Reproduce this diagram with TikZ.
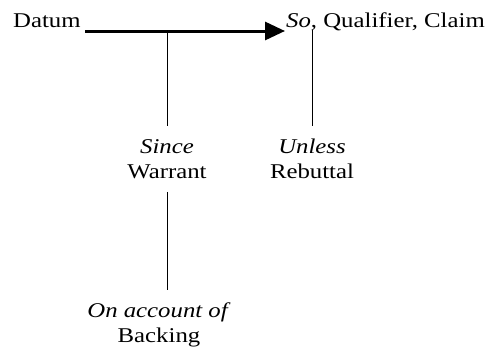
\documentclass[tikz,border=0pt]{standalone}
\usepackage{fontspec}
\setmainfont[FakeStretch=1.18]{Liberation Serif}
\usetikzlibrary{arrows.meta}

\begin{document}
\begin{tikzpicture}[x=1pt,y=-1pt,
        part/.style={
        align=center, inner xsep=10pt, inner ysep=13pt,
        font=\fontsize{21}{25}\selectfont},
        link/.style={line width=1pt},
        ]
        \useasboundingbox (0,0) rectangle (488,349);

        \node (datum) [part, anchor=base west, inner sep=0pt] at (13,27) {Datum};
        \node (claim) [part, anchor=base west, inner sep=0pt] at (286,27) {\textit{So}, Qualifier, Claim};
        \node (warrant) [part] at (167,159) {\textit{Since}\\Warrant};
        \node (rebuttal) [part] at (312,159) {\textit{Unless}\\Rebuttal};
        \node (backing) [part] at (159,325) {\textit{On account of}\\Backing};

        \coordinate (from) at (85,31);
        \coordinate (to) at (285,31);
        \coordinate (since) at (167,31);
        \coordinate (unless) at (312,30);

        \draw [line width=3pt, -{Triangle[length=20pt,width=18pt]}] (from) -- (to);
        \draw [link] (since) -- (since |- warrant.north);
        \draw [link] (unless) -- (rebuttal);
        \draw [link] (warrant) -- (warrant |- backing.north);
    \end{tikzpicture}
\end{document}
